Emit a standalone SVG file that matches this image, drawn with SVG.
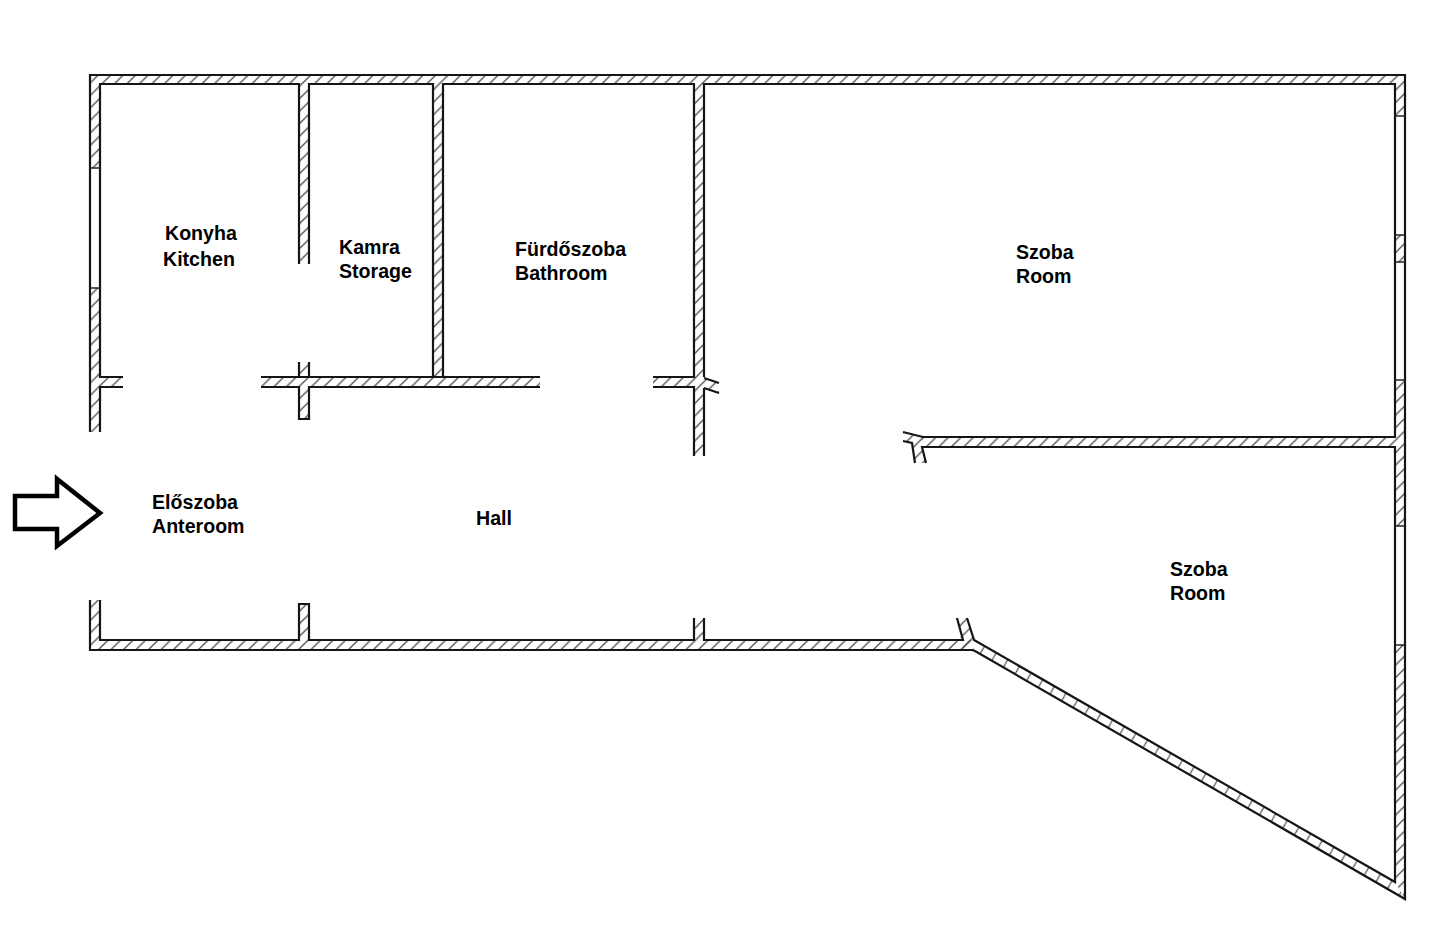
<svg xmlns="http://www.w3.org/2000/svg" width="1440" height="928" viewBox="0 0 1440 928">
<style>
.hatch{fill:url(#h);stroke:none}
.hatchd{fill:url(#hd);stroke:none}
.wall{fill:none;stroke:#151515;stroke-width:2.2;stroke-linecap:butt;stroke-linejoin:miter}
.thin{fill:none;stroke:#222;stroke-width:1.5}
.lbl{font-family:"Liberation Sans",Arial,sans-serif;font-weight:700;font-size:19.6px;fill:#000}
</style>
<defs>
<pattern id="h" patternUnits="userSpaceOnUse" width="12.5" height="12.5" patternTransform="translate(-1.8 0)"><path d="M-2 14.5L14.5-2M-2 2L2-2M10.5 14.5L14.5 10.5" stroke="#444" stroke-width="1.2" fill="none"/></pattern>
<pattern id="hd" patternUnits="userSpaceOnUse" width="19" height="19" patternTransform="rotate(-15 975 650)"><path d="M-2 21L21-2M-2 2L2-2M17 21L21 17" stroke="#444" stroke-width="1.2" fill="none"/></pattern>
</defs>
<rect width="1440" height="928" fill="#fff"/>
<g id="wall-hatching">
<path class="hatch" d="M90 75H1405V116H1395V84H100V168H90ZM90 288H100V432H90ZM1395 235H1405V262H1395ZM1395 380H1405V526H1395ZM1395 645H1405V899L1395 882Z"/>
<path class="hatch" d="M299 84H309V264H299ZM433 84H443V377H433ZM694 84H704V456H694ZM299 362H309V419H299ZM100 377H123V387H100ZM261 377H540V387H261ZM653 377H694V387H653ZM90 600H100V640H973V650H90ZM299 604H309V640H299ZM694 618H704V640H694ZM922 437H1395V447H922Z"/>
<path class="hatch" d="M704 378L719 383V393L704 388ZM903 432L923 437V447L926 463H915L912 443L903 442ZM957 618H967L974 640V650H963Z"/>
<path class="hatchd" d="M975 640L1395 882L1405 899L975 651Z"/>
</g>
<g id="walls">
<path class="wall" d="M90 432V75H1405V899L975 651L972 650H90V600M100 600V640H299V604H309V640H694V618M704 618V640H963L957 618M967 618L974 640L1395 882V447H922L926 463M915 463L912 443L903 441M903 432L923 437H1395V84H704V377M694 456V387H653M653 377H694V84H443V377H261M261 387H299V419H309V387H540M540 377H443M433 377V84H309V264M299 264V84H100V377H123M123 387H100V432M299 362V377M309 362V377M704 378L719 383M704 388L719 393M704 388V456"/>
<path class="thin" d="M90 168H100M90 288H100M1395 116H1405M1395 235H1405M1395 262H1405M1395 380H1405M1395 526H1405M1395 645H1405"/>
</g>
<g id="entrance-arrow">
<path d="M15 496H57V479L100 513L57 546V529H15Z" fill="#fff" stroke="#000" stroke-width="4.5" stroke-linejoin="miter"/>
</g>
<g id="labels">
<text class="lbl" x="165" y="240">Konyha</text>
<text class="lbl" x="163" y="266">Kitchen</text>
<text class="lbl" x="339" y="254">Kamra</text>
<text class="lbl" x="339" y="278">Storage</text>
<text class="lbl" x="515" y="256">Fürdőszoba</text>
<text class="lbl" x="515" y="280">Bathroom</text>
<text class="lbl" x="1016" y="259">Szoba</text>
<text class="lbl" x="1016" y="283">Room</text>
<text class="lbl" x="152" y="509">Előszoba</text>
<text class="lbl" x="152" y="533">Anteroom</text>
<text class="lbl" x="476" y="525">Hall</text>
<text class="lbl" x="1170" y="576">Szoba</text>
<text class="lbl" x="1170" y="600">Room</text>
</g>
</svg>
